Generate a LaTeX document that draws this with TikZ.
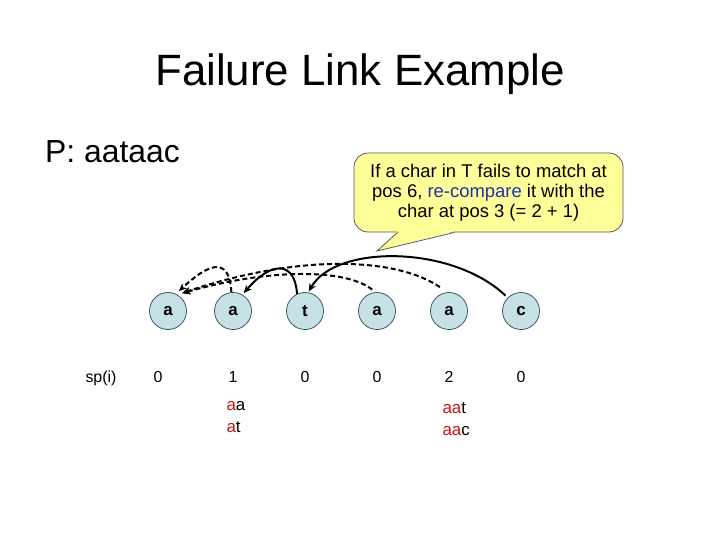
\documentclass[tikz,border=0pt]{standalone}
\usepackage{fontspec}
\setmainfont{Liberation Sans}
\usepackage{tikz}
\usetikzlibrary{arrows.meta,calc}
\usepackage{xcolor}
\definecolor{cellfill}{RGB}{198,225,229}
\definecolor{celldraw}{RGB}{60,90,100}
\definecolor{notefill}{RGB}{255,255,153}
\definecolor{linkred}{RGB}{200,20,20}
\definecolor{linkblue}{RGB}{30,50,170}

\begin{document}
\begin{tikzpicture}[x=1bp,y=-1bp,>={Stealth[length=8bp,width=7bp]},
  cell/.style={circle,draw=celldraw,fill=cellfill,line width=0.8bp,minimum size=37bp,inner sep=0pt,font=\fontsize{17}{19}\selectfont\bfseries},
  spval/.style={anchor=base,font=\fontsize{16}{18}\selectfont},
  sfx/.style={anchor=base west,font=\fontsize{17}{20}\selectfont},
  link/.style={->,line width=2bp},
  dlink/.style={link,dash pattern=on 5bp off 3bp}]
\useasboundingbox (0,0) rectangle (720,540);
\node[anchor=base,font=\fontsize{44}{52}\selectfont] (title) at (360,86) {Failure Link Example};
\node[anchor=base west,inner sep=0pt,font=\fontsize{32}{38}\selectfont] (pat) at (45,163) {P: aataac};
% callout
\node[draw=gray!70!black,line width=0.8bp,fill=notefill,rounded corners=14bp,minimum width=269bp,minimum height=79bp,align=center,font=\fontsize{18.5}{20}\selectfont] (note) at (488.5,192.5)
  {If a char in T fails to match at\\pos 6, \textcolor{linkblue}{re-compare} it with the\\char at pos 3 (= 2 + 1)};
\coordinate (tip) at (377,251);
\fill[notefill] ($(note.south west)+(44,-1.2)$) -- (tip) -- ($(note.south west)+(101,-1.2)$) -- cycle;
\draw[gray!70!black,line width=0.8bp] ($(note.south west)+(44,0)$) -- (tip) -- ($(note.south west)+(101,0)$);
% pattern
\foreach \ch/\x [count=\i] in {a/168,a/233,t/305,a/377,a/449,c/521}
  \node[cell] (p\i) at (\x,311) {\ch};
\node[spval] (sp) at (101,382) {sp(i)};
\foreach \v/\x [count=\i] in {0/158,1/233,0/305,0/377,2/449,0/521}
  \node[spval] (s\i) at (\x,382) {\v};
\node[sfx] (w1) at (223,410) {\textcolor{linkred}{a}a};
\node[sfx] (w2) at (223,432) {\textcolor{linkred}{a}t};
\node[sfx] (w3) at (439,413) {\textcolor{linkred}{aa}t};
\node[sfx] (w4) at (439,435) {\textcolor{linkred}{aa}c};
% failure links
\draw[dlink,shorten >=4bp] (p2.95) .. controls +(-2,-38) and +(31,-29) .. (p1.65);
\draw[dlink,shorten <=4bp,shorten >=5bp] (p4.95) .. controls +(-30,-24) and +(90,-26) .. (p1.60);
\draw[dlink,shorten <=9bp,shorten >=5bp] (p5.95) .. controls +(-50,-34) and +(125,-42) .. (p1.60);
\draw[link,shorten >=2bp] (p3.115) .. controls +(-2,-32) and +(30,-35) .. (p2.60);
\draw[link,shorten <=3bp,shorten >=1bp] (p6.135) .. controls +(-56,-53) and +(27,-48) .. (p3.80);
\end{tikzpicture}
\end{document}
